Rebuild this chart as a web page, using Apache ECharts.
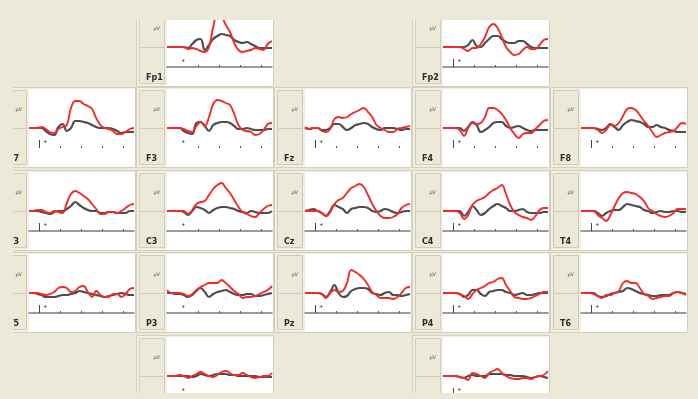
<!DOCTYPE html>
<html>
<head>
<meta charset="utf-8">
<script src="https://cdn.jsdelivr.net/npm/echarts@6/dist/echarts.min.js"></script>
<style>
  html, body { margin: 0; padding: 0; background: #ECE9D8; }
  #chart { width: 698px; height: 399px; }
</style>
</head>
<body>
<div id="chart"></div>
<script>
// time axis, ms (stimulus onset at 0)
var times = [-50, -30, -10, 10, 30, 50, 70, 90, 110, 130, 150, 170, 190, 210, 230, 250, 270, 290, 310, 330, 350, 370, 390, 410, 430, 450];
var tickTimes = [100, 200, 300, 400];
var onsetTimes = [0];

// amplitudes (uV), red = condition A, black = condition B
var fp1Red = [0, 0, 0, 0, 0, -2, -1, -2, -4, -5, 0, 20, 32, 30, 22, 15, 4, -3, -5, -4, -3, -1, -2, -3, 3, 6];
var fp1Black = [0, 0, 0, 0, 0, -1, 3, 7, 8, -3, 2, 8, 11, 13, 12, 11, 7, 5, 4, 5, 3, 1, -1, -1, -1, -1];
var fp2Red = [0, 0, 0, 0, 0, -2, -4, -1, -1, 3, 10, 20, 23, 19, 10, 0, -5, -8, -7, -3, 0, -2, -2, 2, 7, 8];
var fp2Black = [0, 0, 0, 0, 0, 0, 2, 7, 1, 0, 4, 8, 11, 11, 8, 5, 4, 4, 6, 6, 3, 0, -1, -1, -1, -1];
var f7Red = [0, 0, 0, 1, -1, -4, -5, -1, 1, 3, 20, 27, 27, 24, 22, 19, 10, 3, 0, -1, -3, -6, -6, -4, -1, 0];
var f7Black = [0, 0, 0, 0, -3, -6, -7, 1, 4, -3, 0, 7, 7, 6, 5, 3, 1, 0, 0, 0, -1, -3, -5, -4, -4, -4];
var f3Red = [0, 0, 0, 0, -1, -3, -4, 2, 6, 2, 11, 24, 28, 27, 25, 23, 14, 3, -2, -3, -4, -7, -6, -2, 4, 5];
var f3Black = [0, 0, 0, 0, -3, -5, -6, 5, 6, 2, -3, 3, 5, 6, 6, 5, 2, -1, -1, 0, -1, -2, -2, -2, -1, -1];
var fzRed = [1, -1, 0, 0, -3, -4, -1, 9, 11, 10, 11, 14, 16, 18, 20, 16, 11, 3, 0, -2, -4, -4, -1, 0, 1, 2];
var fzBlack = [0, -1, 0, 0, -2, -2, 0, 4, 4, 1, -2, 0, 3, 4, 5, 4, 1, -1, -2, 0, 0, 0, -1, -2, -1, -1];
var f4Red = [0, 0, 0, 0, -2, -8, 0, 5, 4, 5, 11, 20, 20, 18, 14, 8, 0, -6, -10, -6, -5, -5, -1, 3, 7, 8];
var f4Black = [0, 0, 0, 0, 0, -3, 1, 6, 3, -4, -2, 1, 5, 6, 6, 2, 0, 1, 2, 0, -2, -3, -2, -2, -2, -2];
var f8Red = [0, 0, 0, 0, -2, -5, -2, 3, 2, 5, 12, 19, 20, 18, 13, 7, 2, -4, -9, -7, -5, -4, -3, 1, 5, 4];
var f8Black = [0, 0, 0, 0, -1, -2, 0, 4, 1, -2, 3, 6, 8, 7, 6, 4, 1, 1, 3, 1, 0, -2, -3, -4, -4, -4];
var t3Red = [0, 0, 1, 1, -1, -2, 0, -1, -2, 8, 17, 20, 18, 15, 12, 7, 2, -3, -3, -1, -1, -2, 0, 3, 6, 7];
var t3Black = [0, 0, 0, -1, -2, -3, -1, 0, 0, 2, 5, 9, 6, 3, 1, 0, 0, -2, -2, -1, -1, -2, -2, -2, 0, 0];
var c3Red = [0, 0, 0, 0, 0, -3, 1, 7, 9, 10, 16, 22, 26, 28, 23, 18, 11, 4, -1, -3, -5, -6, -2, 2, 5, 6];
var c3Black = [0, 0, 0, 0, -1, -4, 0, 4, 3, 1, -2, 1, 3, 4, 4, 3, 2, 0, -1, -2, 0, -1, -2, -2, -2, 0];
var czRed = [0, 0, 0, 0, -2, -5, -1, 7, 11, 13, 18, 23, 25, 27, 24, 16, 7, 0, -5, -7, -7, -6, -3, 3, 6, 7];
var czBlack = [0, 1, 2, 0, -2, -5, 0, 6, 4, 2, -2, 2, 3, 4, 4, 3, 0, -1, 0, 2, 1, -1, -2, -1, 0, 0];
var c4Red = [0, 0, 0, 0, -2, -8, -4, 6, 10, 12, 14, 18, 21, 23, 26, 17, 6, -1, -4, -6, -7, -9, -5, 1, 3, 3];
var c4Black = [0, 0, 0, 0, 0, -5, -1, 5, 1, -4, -2, 2, 5, 7, 5, 3, 0, 0, 1, 2, -1, -2, -2, -2, -1, -1];
var t4Red = [0, 0, 0, 0, -4, -7, -10, -4, 5, 13, 18, 19, 18, 17, 14, 10, 3, 0, -3, -5, -6, -5, -2, 2, 2, 2];
var t4Black = [0, 0, 0, 0, -2, -5, -2, 0, 1, 1, 4, 7, 6, 5, 4, 1, 0, -2, -1, 0, -1, -1, 0, 0, -1, -1];
var t5Red = [0, 0, 0, -1, -2, -1, 1, 5, 6, 5, 1, 2, 6, 7, 1, -4, 2, -2, -4, -4, -1, -1, -4, -1, 4, 5];
var t5Black = [0, 0, -1, -2, -4, -4, -4, -3, -2, -2, -1, 0, 2, 1, 0, -1, -2, -3, -4, -3, -2, -1, 0, -1, -2, -2];
var p3Red = [3, 0, 0, 0, -1, -3, -1, 3, 6, 8, 10, 10, 10, 13, 10, 6, 2, -1, -5, -4, -4, -3, -1, 1, 3, 7];
var p3Black = [0, 0, -1, -1, -2, -4, -2, 2, 5, 1, -4, -1, 1, 2, 3, 1, -1, -2, -2, -1, -1, -3, -3, -2, -1, 0];
var pzRed = [0, 0, 0, 0, -1, -5, 0, 3, 1, 2, 10, 23, 21, 18, 14, 8, 1, -2, -5, -5, -5, -6, -4, 0, 5, 6];
var pzBlack = [0, 0, 0, 0, -1, -4, 1, 8, 0, -4, -3, 2, 4, 5, 5, 4, 0, -1, -2, 0, 1, -2, -2, -3, -2, -1];
var p4Red = [0, 0, 0, 0, -1, -3, -6, -1, 3, 5, 7, 10, 11, 14, 15, 8, 2, -4, -5, -6, -6, -5, -3, -1, 1, 1];
var p4Black = [0, 0, 0, 0, -1, -4, -2, 3, 3, -1, -3, 1, 2, 3, 3, 1, 0, -2, -1, 0, -2, -2, -1, 0, 0, 0];
var t6Red = [0, 0, 0, -1, -3, -5, -2, -2, 0, 2, 10, 12, 10, 10, 5, -1, -3, -6, -5, -4, -3, -3, 0, 1, 0, -2];
var t6Black = [0, 0, 0, 0, -3, -4, -3, -1, 0, 1, 2, 5, 4, 2, 0, -1, -2, -3, -3, -2, -2, -2, 0, 1, 0, -1];
var o1Red = [0, 0, 0, 1, 0, -2, 0, 2, 4, 2, 0, -1, 1, 4, 5, 3, 1, 1, 3, 1, -1, -2, -1, 0, 0, 3];
var o1Black = [0, 0, 0, 0, 0, 0, -1, 0, 2, 1, 0, 1, 2, 2, 2, 1, 1, 0, 0, 0, 0, 0, -1, -1, -1, -1];
var o2Red = [0, 0, 0, 0, -1, -2, -4, 3, 2, 0, -2, 3, 5, 7, 3, 0, -2, -3, -3, -2, -2, -3, -1, 0, 1, 5];
var o2Black = [0, 0, 0, 0, -1, -2, 0, 1, 0, 0, 0, 2, 2, 2, 2, 1, 1, 0, 0, 0, -1, -2, -1, 0, -1, -2];

var channels = [
  { name: 'Fp1', col: 1, row: 0, red: fp1Red, black: fp1Black },
  { name: 'Fp2', col: 3, row: 0, red: fp2Red, black: fp2Black },
  { name: 'F7', col: 0, row: 1, red: f7Red, black: f7Black },
  { name: 'F3', col: 1, row: 1, red: f3Red, black: f3Black },
  { name: 'Fz', col: 2, row: 1, red: fzRed, black: fzBlack },
  { name: 'F4', col: 3, row: 1, red: f4Red, black: f4Black },
  { name: 'F8', col: 4, row: 1, red: f8Red, black: f8Black },
  { name: 'T3', col: 0, row: 2, red: t3Red, black: t3Black },
  { name: 'C3', col: 1, row: 2, red: c3Red, black: c3Black },
  { name: 'Cz', col: 2, row: 2, red: czRed, black: czBlack },
  { name: 'C4', col: 3, row: 2, red: c4Red, black: c4Black },
  { name: 'T4', col: 4, row: 2, red: t4Red, black: t4Black },
  { name: 'T5', col: 0, row: 3, red: t5Red, black: t5Black },
  { name: 'P3', col: 1, row: 3, red: p3Red, black: p3Black },
  { name: 'Pz', col: 2, row: 3, red: pzRed, black: pzBlack },
  { name: 'P4', col: 3, row: 3, red: p4Red, black: p4Black },
  { name: 'T6', col: 4, row: 3, red: t6Red, black: t6Black },
  { name: 'O1', col: 1, row: 4, red: o1Red, black: o1Black },
  { name: 'O2', col: 3, row: 4, red: o2Red, black: o2Black }
];

var BG = '#ECE9D8';
var colLeft = [29, 167, 305, 443, 581];
var rowTop = [8, 89, 172, 254, 337];
var plotW = 105;

function pairs (arr) {
  return times.map(function (t, i) { return [t, arr[i]]; });
}

var grids = [];
var xAxes = [];
var yAxes = [];
var series = [];
var graphics = [];

channels.forEach(function (ch, i) {
  var x = colLeft[ch.col];
  var y = rowTop[ch.row];

  // panel frame
  graphics.push({ type: 'rect', z: -10, shape: { x: x - 30.5, y: y - 1.5, width: 137, height: 80 },
    style: { fill: '#F1EFE4', stroke: '#D4D0BC', lineWidth: 1 } });
  graphics.push({ type: 'rect', z: -9, shape: { x: x - 27.5, y: y + 1.5, width: 25, height: 38 },
    style: { fill: BG, stroke: '#D0CCB8', lineWidth: 1 } });
  graphics.push({ type: 'rect', z: -9, shape: { x: x - 27.5, y: y + 39.5, width: 25, height: 36 },
    style: { fill: BG, stroke: '#D0CCB8', lineWidth: 1 } });
  graphics.push({ type: 'rect', z: -9, shape: { x: x, y: y, width: plotW + 1, height: 78 },
    style: { fill: '#ffffff' } });
  graphics.push({ type: 'text', z: -8, x: x - 7, y: y + 21,
    style: { text: 'µV', fill: '#555', font: '5px "DejaVu Sans"', textAlign: 'right', textVerticalAlign: 'middle' } });
  graphics.push({ type: 'text', z: -8, x: x - 21, y: y + 70,
    style: { text: ch.name, fill: '#2b2b2b', font: 'bold 8px "DejaVu Sans"', textAlign: 'left', textVerticalAlign: 'middle' } });

  grids.push({ left: x, top: y, width: plotW, height: 59 });
  xAxes.push({
    type: 'value', gridIndex: i, min: -50, max: 450, position: 'bottom',
    axisLine: { show: ch.row !== 1, onZero: false, lineStyle: { color: '#7a7a7a', width: 1.5 } },
    axisTick: { show: true, inside: true, length: 2, customValues: tickTimes, lineStyle: { color: '#555', width: 1 } },
    axisLabel: { show: false },
    splitLine: { show: false }
  });
  xAxes.push({
    type: 'value', gridIndex: i, min: -50, max: 450, position: 'bottom',
    axisLine: { show: false, onZero: false },
    axisTick: { show: ch.col !== 1, inside: true, length: 8, customValues: onsetTimes, lineStyle: { color: '#444', width: 1 } },
    axisLabel: { show: true, inside: true, customValues: onsetTimes, margin: 4, fontSize: 6, fontWeight: 'bold', color: '#333',
      align: 'left', padding: [0, 0, 0, 4], formatter: function () { return '+'; } },
    splitLine: { show: false }
  });
  yAxes.push({ type: 'value', gridIndex: i, min: -20, max: 39, show: false, splitLine: { show: false } });

  series.push({
    type: 'line', name: ch.name + ' B', xAxisIndex: i * 2, yAxisIndex: i,
    data: pairs(ch.black), showSymbol: false, smooth: 0.4, z: 3,
    lineStyle: { color: '#3a3a3a', width: 2.2, opacity: 0.9 }
  });
  series.push({
    type: 'line', name: ch.name + ' A', xAxisIndex: i * 2, yAxisIndex: i,
    data: pairs(ch.red), showSymbol: false, smooth: 0.4, z: 4,
    lineStyle: { color: '#f22a2a', width: 1.9 }
  });
});

// window edges hiding parts of the outer panels
graphics.push({ type: 'rect', z: 50, shape: { x: 0, y: 0, width: 698, height: 20 }, style: { fill: BG } });
graphics.push({ type: 'rect', z: 50, shape: { x: 0, y: 0, width: 13, height: 399 }, style: { fill: BG } });
graphics.push({ type: 'rect', z: 50, shape: { x: 0, y: 393, width: 698, height: 6 }, style: { fill: BG } });
graphics.push({ type: 'rect', z: 50, shape: { x: 688, y: 0, width: 10, height: 399 }, style: { fill: BG } });

var myChart = echarts.init(document.getElementById('chart'));
myChart.setOption({
  animation: false,
  backgroundColor: BG,
  grid: grids,
  xAxis: xAxes,
  yAxis: yAxes,
  series: series,
  graphic: graphics
});
</script>
</body>
</html>
